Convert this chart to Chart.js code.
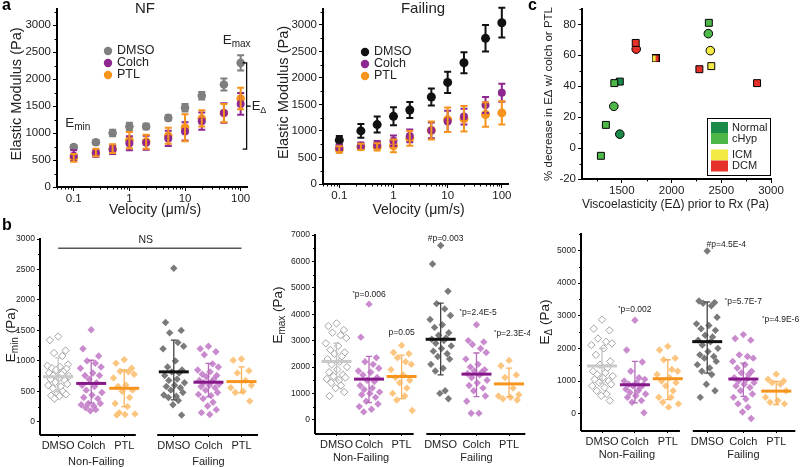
<!DOCTYPE html>
<html>
<head>
<meta charset="utf-8">
<script src="https://cdn.jsdelivr.net/npm/chart.js@4.4.1/dist/chart.umd.min.js"></script>
<style>
  body { margin: 0; background: #fff; }
  #fig { position: relative; width: 800px; height: 467px; overflow: hidden; font-family: "Liberation Sans", Arial, sans-serif; }
  .box { position: absolute; }
  .letter { position: absolute; font-weight: bold; font-size: 16px; color: #000; }
</style>
</head>
<body>
<div id="fig">
  <div class="box" style="left:0;top:0;width:270px;height:225px"><canvas id="nf"></canvas></div>
  <div class="box" style="left:270px;top:0;width:260px;height:225px"><canvas id="failing"></canvas></div>
  <div class="box" style="left:530px;top:0;width:270px;height:225px"><canvas id="visco"></canvas></div>
  <div class="box" style="left:0;top:225px;width:265px;height:242px"><canvas id="emin"></canvas></div>
  <div class="box" style="left:265px;top:225px;width:265px;height:242px"><canvas id="emax"></canvas></div>
  <div class="box" style="left:530px;top:225px;width:270px;height:242px"><canvas id="edelta"></canvas></div>
  <div class="letter" style="left:2px;top:-4px">a</div>
  <div class="letter" style="left:2px;top:216px">b</div>
  <div class="letter" style="left:528px;top:-4px">c</div>
</div>
<script>
// ---- panel a: elastic modulus vs velocity ----
const velocity = [0.1, 0.25, 0.5, 1, 2, 5, 10, 20, 50, 100];
const nfDmso = [740, 830, 1000, 1120, 1120, 1280, 1470, 1690, 1900, 2300];
const nfDmsoErr = [40, 40, 60, 70, 50, 50, 70, 70, 110, 140];
const nfColch = [580, 620, 690, 810, 820, 900, 1030, 1220, 1370, 1540];
const nfColchErr = [100, 60, 80, 130, 130, 140, 170, 160, 180, 200];
const nfPtl = [540, 640, 710, 870, 840, 950, 1100, 1270, 1370, 1640];
const nfPtlErr = [70, 70, 80, 150, 130, 150, 250, 150, 170, 200];

const fDmso = [826, 1000, 1120, 1275, 1395, 1640, 1915, 2285, 2745, 3040];
const fDmsoErr = [80, 130, 150, 170, 150, 160, 200, 200, 250, 280];
const fColch = [690, 720, 750, 815, 905, 1010, 1180, 1270, 1490, 1720];
const fColchErr = [50, 60, 60, 100, 120, 150, 200, 150, 150, 170];
const fPtl = [650, 700, 700, 720, 860, 1010, 1210, 1230, 1310, 1340];
const fPtlErr = [60, 60, 70, 120, 140, 170, 230, 240, 230, 220];

// ---- panel c: % decrease vs viscoelasticity ----
const normalSq = [[1480, 43]];
const normalCirc = [[1480, 9]];
const chypSq = [[1290, -5], [1340, 15], [1425, 42], [2375, 81]];
const chypCirc = [[1420, 27], [2370, 74]];
const icmSq = [[2400, 53]];
const icmCirc = [[2390, 63]];
const dcmSq = [[1640, 68], [2280, 51], [2860, 42]];
const dcmCirc = [[1645, 64]];
const icmDcmSq = [[1840, 58]];

// ---- panel b: dot plots ----
const catNames = ['DMSO', 'Colch', 'PTL', 'DMSO', 'Colch', 'PTL'];
const groupNames = ['Non-Failing', 'Failing'];

const eminGroups = [
  [1400, 1340, 1170, 1130, 1080, 940, 920, 900, 880, 870, 850, 820, 800, 780, 760, 750, 720, 700, 680, 650, 620, 600, 580, 550, 500, 470, 450, 430, 420, 380],
  [1510, 1200, 1080, 1000, 960, 900, 880, 800, 760, 760, 700, 640, 600, 580, 520, 480, 440, 400, 380, 300, 300, 280, 260, 230, 200, 180],
  [1020, 960, 880, 830, 820, 780, 720, 600, 580, 520, 500, 400, 300, 250, 150, 130, 120, 110],
  [2520, 1630, 1500, 1460, 1300, 1240, 1200, 1000, 900, 850, 820, 800, 760, 700, 680, 640, 600, 580, 560, 520, 480, 440, 420, 400, 350, 280, 110],
  [1240, 1200, 1150, 1100, 950, 900, 850, 820, 780, 760, 740, 700, 680, 660, 640, 620, 600, 580, 560, 520, 480, 450, 430, 380, 320, 260, 200, 150, 120],
  [1030, 1010, 840, 800, 680, 600, 560, 500, 480, 340]
];
const eminMean = [740, 630, 550, 820, 650, 660];
const eminLo = [490, 310, 250, 360, 410, 475];
const eminHi = [1050, 1010, 850, 1340, 960, 900];

const emaxGroups = [
  [3650, 3550, 3400, 3300, 3200, 3100, 2900, 2800, 2650, 2550, 2500, 2400, 2300, 2200, 2100, 2000, 1900, 1800, 1700, 1650, 1600, 1550, 1500, 1400, 1300, 1200, 1050, 900],
  [4380, 3130, 2350, 2200, 2100, 1950, 1850, 1800, 1700, 1600, 1500, 1450, 1300, 1200, 1150, 1050, 1000, 950, 850, 700, 600, 500, 400, 300],
  [2820, 2550, 2500, 2350, 2200, 2100, 1900, 1700, 1600, 1500, 1400, 1200, 1000, 900, 750, 350],
  [6600, 5900, 4870, 4400, 4200, 3950, 3800, 3600, 3500, 3300, 3200, 3100, 3050, 3000, 2900, 2800, 2700, 2600, 2500, 2400, 2300, 2100, 1950, 1850, 1100, 1000, 800],
  [3600, 3000, 2950, 2850, 2700, 2550, 2300, 2100, 2000, 1900, 1850, 1800, 1750, 1700, 1600, 1500, 1400, 1300, 1200, 1100, 900, 700, 250, 250],
  [2250, 2050, 1700, 1600, 1200, 950, 900, 850, 800, 750]
];
const emaxMean = [2210, 1540, 1640, 3050, 1730, 1360];
const emaxLo = [1500, 650, 800, 1700, 880, 880];
const emaxHi = [2900, 2400, 2450, 4420, 2530, 1960];

const edeltaGroups = [
  [2880, 2600, 2550, 2300, 2200, 2150, 2100, 2000, 1800, 1600, 1500, 1400, 1300, 1250, 1200, 1150, 1100, 1050, 1000, 950, 900, 850, 800, 700, 600, 550, 400],
  [2860, 1950, 1580, 1300, 1100, 1050, 1000, 950, 900, 880, 850, 800, 750, 700, 650, 600, 550, 500, 400, 350, 30],
  [2060, 1950, 1700, 1650, 1350, 1300, 1200, 1100, 1000, 950, 850, 700, 500, 500, 350, 300, 200],
  [4980, 3450, 3400, 3380, 3300, 2950, 2750, 2700, 2600, 2550, 2400, 2350, 2250, 2200, 2100, 2000, 1900, 1800, 1750, 1700, 1600, 1500, 1400, 1300, 1200, 900, 700, 500],
  [2420, 2300, 2250, 1800, 1750, 1700, 1600, 1500, 1400, 1300, 1250, 1200, 1100, 1050, 1000, 950, 900, 850, 800, 700, 600, 500, 450, 300, 200, 50, -150],
  [1210, 1050, 1000, 950, 900, 700, 500, 400, 350, 300]
];
const edeltaMean = [1460, 885, 1070, 2205, 1060, 690];
const edeltaLo = [935, 330, 430, 1240, 530, 280];
const edeltaHi = [2000, 1600, 1650, 3420, 1550, 990];

// horizontal scatter of the dots around each category
const jitter = [0, -0.2, 0.18, -0.1, 0.1, 0.24, -0.26, 0.04, -0.15, 0.2, -0.05, 0.13, -0.22, 0.08, -0.12, 0.26, 0.02, -0.18, 0.16, -0.07, 0.22, -0.24, 0.06, -0.13, 0.11, -0.02, 0.19, -0.17, 0.03, -0.09, 0.14, -0.2, 0.09, -0.04];

const FONT = '"Liberation Sans", Arial, sans-serif';
const GRAY = '#7f7f7f', PURPLE = '#8e278f', ORANGE = '#f7941d', BLACK = '#111';
const plain = v => String(v);

// ---------- drawing helpers ----------
// parts: [text, kind] where kind '' is normal, 'sub' subscript, 'sup' small raised
function richText(ctx, parts, x, y, size, opts) {
  opts = opts || {};
  ctx.save();
  ctx.translate(x, y);
  if (opts.rotate) ctx.rotate(opts.rotate);
  ctx.fillStyle = opts.color || '#222';
  ctx.textBaseline = 'middle';
  ctx.textAlign = 'left';
  const fonts = parts.map(p => (p[1] ? Math.round(size * 0.72) : size) + 'px ' + FONT);
  let total = 0;
  const widths = parts.map((p, i) => { ctx.font = fonts[i]; const w = ctx.measureText(p[0]).width; total += w; return w; });
  let cx = opts.align === 'left' ? 0 : opts.align === 'right' ? -total : -total / 2;
  parts.forEach((p, i) => {
    ctx.font = fonts[i];
    const dy = p[1] === 'sub' ? size * 0.32 : p[1] === 'sup' ? -size * 0.2 : 0;
    ctx.fillText(p[0], cx, dy);
    cx += widths[i];
  });
  ctx.restore();
}

function minorTicks(chart, axisId, values, len) {
  const s = chart.scales[axisId], a = chart.chartArea, ctx = chart.ctx;
  ctx.save();
  ctx.strokeStyle = '#000';
  ctx.lineWidth = 1;
  ctx.beginPath();
  values.forEach(v => {
    if (v < s.min || v > s.max) return;
    const p = Math.round(s.getPixelForValue(v)) + 0.5;
    if (s.isHorizontal()) { ctx.moveTo(p, a.bottom); ctx.lineTo(p, a.bottom + len); }
    else { ctx.moveTo(a.left, p); ctx.lineTo(a.left - len, p); }
  });
  ctx.stroke();
  ctx.restore();
}

function vBar(chart, x, lo, hi, color, cap, lw) {
  const ctx = chart.ctx, sx = chart.scales.x, sy = chart.scales.y;
  const px = sx.getPixelForValue(x), y1 = sy.getPixelForValue(lo), y2 = sy.getPixelForValue(hi);
  ctx.save();
  ctx.strokeStyle = color;
  ctx.lineWidth = lw;
  ctx.beginPath();
  ctx.moveTo(px, y1); ctx.lineTo(px, y2);
  ctx.moveTo(px - cap, y1); ctx.lineTo(px + cap, y1);
  ctx.moveTo(px - cap, y2); ctx.lineTo(px + cap, y2);
  ctx.stroke();
  ctx.restore();
}

function fixedTicks(values) {
  return s => { s.ticks = values.map(v => ({ value: v })); };
}

function minorLog(min, max) {
  const out = [];
  [0.01, 0.1, 1, 10, 100].forEach(d => { for (let k = 2; k <= 9; k++) { const v = +(d * k).toPrecision(2); if (v >= min && v <= max) out.push(v); } });
  return out;
}

function range(a, b, step) { const out = []; for (let v = a; v <= b + 1e-9; v += step) out.push(v); return out; }

// "*p=0.006" -> small raised star followed by the text
function noteParts(t) {
  return t[0] === '*' ? [['*', 'sup'], [t.slice(1), '']] : [[t, '']];
}

const baseOpts = {
  responsive: true,
  maintainAspectRatio: false,
  animation: false,
  events: [],
  plugins: { legend: { display: false }, tooltip: { enabled: false } }
};

// ---------- panel a ----------
function velocityChart(id, series, o) {
  const datasets = series.map(s => ({
    data: velocity.map((v, i) => ({ x: v, y: s.vals[i] })),
    backgroundColor: s.color,
    borderWidth: 0,
    pointRadius: s.r,
    pointHoverRadius: s.r
  }));
  new Chart(document.getElementById(id), {
    type: 'scatter',
    data: { datasets },
    options: Object.assign({}, baseOpts, {
      layout: { padding: { left: 0, right: o.padRight, top: o.padTop, bottom: o.padBottom } },
      scales: {
        x: {
          type: 'logarithmic', min: 0.05, max: 130,
          afterBuildTicks: fixedTicks([0.1, 1, 10, 100]),
          afterFit: s => { s.height = 30; },
          ticks: { callback: plain, font: { size: 11.5, family: FONT }, color: '#222', padding: 1, maxRotation: 0 },
          grid: { drawOnChartArea: false, tickLength: 4, color: '#000' },
          border: { color: '#000', width: 2 }
        },
        y: {
          min: 0, max: 3300,
          afterBuildTicks: fixedTicks(range(0, 3000, 500)),
          afterFit: s => { s.width = o.yWidth; },
          ticks: { callback: plain, font: { size: 11.5, family: FONT }, color: '#222', padding: 2 },
          grid: { drawOnChartArea: false, tickLength: 4, color: '#000' },
          border: { color: '#000', width: 2 }
        }
      }
    }),
    plugins: [{
      id: 'decorA',
      afterDatasetsDraw(chart) {
        const ctx = chart.ctx, a = chart.chartArea;
        series.forEach(s => velocity.forEach((v, i) => vBar(chart, v, s.vals[i] - s.err[i], s.vals[i] + s.err[i], s.color, 3.5, 2)));
        minorTicks(chart, 'x', minorLog(0.05, 130), 2.5);
        minorTicks(chart, 'y', range(250, 3250, 500), 2.5);
        // axis titles
        richText(ctx, [['Elastic Modulus (Pa)', '']], o.yTitleX, (a.top + a.bottom) / 2 - 4, 14.5, { rotate: -Math.PI / 2 });
        richText(ctx, [['Velocity (', ''], ['\u03bc', ''], ['m/s)', '']], (a.left + a.right) / 2 + 3, 210, 14);
        richText(ctx, [[o.title, '']], o.titleX, 9, 15);
        // legend
        series.forEach((s, i) => {
          const y = o.legendY + i * 12;
          ctx.beginPath(); ctx.fillStyle = s.color; ctx.arc(o.legendX, y, 4.2, 0, Math.PI * 2); ctx.fill();
          richText(ctx, [[s.name, '']], o.legendX + 9, y, 12.5, { align: 'left' });
        });
        if (o.bracket) o.bracket(chart);
      }
    }]
  });
}

velocityChart('nf', [
  { name: 'DMSO', vals: nfDmso, err: nfDmsoErr, color: GRAY, r: 4.3 },
  { name: 'Colch', vals: nfColch, err: nfColchErr, color: PURPLE, r: 4 },
  { name: 'PTL', vals: nfPtl, err: nfPtlErr, color: ORANGE, r: 4.3 }
], {
  padRight: 23, padTop: 7, padBottom: 8, yWidth: 57, yTitleX: 17, title: 'NF', titleX: 145,
  legendX: 108, legendY: 51,
  bracket(chart) {
    const ctx = chart.ctx, sx = chart.scales.x, sy = chart.scales.y;
    const x = sx.getPixelForValue(100) + 6;
    const top = sy.getPixelForValue(nfDmso[9]), bot = sy.getPixelForValue(700), mid = (top + bot) / 2;
    ctx.save();
    ctx.strokeStyle = '#000'; ctx.lineWidth = 1.2;
    ctx.beginPath();
    ctx.moveTo(x - 4, top); ctx.lineTo(x, top); ctx.lineTo(x, bot); ctx.lineTo(x - 4, bot);
    ctx.moveTo(x, mid); ctx.lineTo(x + 4, mid);
    ctx.stroke();
    ctx.restore();
    richText(ctx, [['E', ''], ['\u0394', 'sub']], x + 5, mid, 13, { align: 'left' });
    richText(ctx, [['E', ''], ['max', 'sub']], sx.getPixelForValue(100) - 4, 40, 13.5);
    richText(ctx, [['E', ''], ['min', 'sub']], sx.getPixelForValue(0.1) + 4, 123, 13.5);
  }
});

velocityChart('failing', [
  { name: 'DMSO', vals: fDmso, err: fDmsoErr, color: BLACK, r: 4.5 },
  { name: 'Colch', vals: fColch, err: fColchErr, color: PURPLE, r: 4 },
  { name: 'PTL', vals: fPtl, err: fPtlErr, color: ORANGE, r: 4.5 }
], {
  padRight: 22, padTop: 5, padBottom: 11, yWidth: 53, yTitleX: 14, title: 'Failing', titleX: 153,
  legendX: 95, legendY: 52
});

// ---------- panel c ----------
function splitSquare(c1, c2, size) {
  const cv = document.createElement('canvas');
  cv.width = cv.height = size;
  const g = cv.getContext('2d');
  g.fillStyle = c1; g.fillRect(0, 0, size / 2, size);
  g.fillStyle = c2; g.fillRect(size / 2, 0, size / 2, size);
  g.strokeStyle = '#000'; g.lineWidth = 1; g.strokeRect(0.5, 0.5, size - 1, size - 1);
  return cv;
}
const NORMAL = '#1b8b49', CHYP = '#4db848', ICM = '#f4ea45', DCM = '#e5312a';
function markSet(pts, color, style) {
  return {
    data: pts.map(p => ({ x: p[0], y: p[1] })),
    backgroundColor: color, borderColor: '#000', borderWidth: 1,
    pointStyle: style, pointRadius: style === 'rect' ? 4.9 : 4.3, pointHoverRadius: 4.9
  };
}
new Chart(document.getElementById('visco'), {
  type: 'scatter',
  data: {
    datasets: [
      markSet(chypSq, CHYP, 'rect'), markSet(normalSq, NORMAL, 'rect'),
      markSet(chypCirc, CHYP, 'circle'), markSet(normalCirc, NORMAL, 'circle'),
      markSet(dcmSq, DCM, 'rect'), markSet(dcmCirc, DCM, 'circle'),
      markSet(icmSq, ICM, 'rect'), markSet(icmCirc, ICM, 'circle'),
      Object.assign(markSet(icmDcmSq, ICM, 'rect'), { pointStyle: splitSquare(ICM, DCM, 8) })
    ]
  },
  options: Object.assign({}, baseOpts, {
    layout: { padding: { left: 0, right: 29, top: 7, bottom: 11 } },
    scales: {
      x: {
        min: 1100, max: 3000,
        afterBuildTicks: fixedTicks([1500, 2000, 2500, 3000]),
        afterFit: s => { s.height = 35; },
        ticks: { callback: plain, font: { size: 11.5, family: FONT }, color: '#222', padding: 1, maxRotation: 0 },
        grid: { drawOnChartArea: false, tickLength: 4, color: '#000' },
        border: { color: '#000', width: 2 }
      },
      y: {
        min: -20, max: 90,
        afterBuildTicks: fixedTicks(range(-20, 80, 20)),
        afterFit: s => { s.width = 52; },
        ticks: { callback: plain, font: { size: 11.5, family: FONT }, color: '#222', padding: 2 },
        grid: { drawOnChartArea: false, tickLength: 4, color: '#000' },
        border: { color: '#000', width: 2 }
      }
    }
  }),
  plugins: [{
    id: 'decorC',
    afterDraw(chart) {
      const ctx = chart.ctx, a = chart.chartArea;
      minorTicks(chart, 'x', [1250, 1750, 2250, 2750], 2.5);
      minorTicks(chart, 'y', range(-10, 90, 20), 2.5);
      richText(ctx, [['% decrease in E\u0394 w/ colch or PTL', '']], 19, (a.top + a.bottom) / 2, 11.5, { rotate: -Math.PI / 2 });
      richText(ctx, [['Viscoelasticity (E\u0394) prior to Rx (Pa)', '']], (a.left + a.right) / 2 - 1, 205, 12);
      // legend
      ctx.save();
      ctx.fillStyle = '#fff'; ctx.fillRect(177, 118, 63, 57);
      ctx.strokeStyle = '#000'; ctx.lineWidth = 1; ctx.strokeRect(177.5, 118.5, 63, 57);
      [[NORMAL, 'Normal', 122], [CHYP, 'cHyp', 133], [ICM, 'ICM', 149.5], [DCM, 'DCM', 160.5]].forEach(e => {
        ctx.fillStyle = e[0]; ctx.fillRect(181, e[2], 17, 11);
        richText(ctx, [[e[1], '']], 202, e[2] + 5.5, 11, { align: 'left' });
      });
      ctx.restore();
    }
  }]
});

// ---------- panel b ----------
const dotFill = ['#ffffff', 'rgba(192,118,198,0.85)', 'rgba(252,192,115,0.9)', '#7a7a7a', 'rgba(192,118,198,0.85)', 'rgba(252,192,115,0.9)'];
const dotEdge = ['#a3a3a3', 'rgba(192,118,198,0.85)', 'rgba(252,192,115,0.9)', '#7a7a7a', 'rgba(192,118,198,0.85)', 'rgba(252,192,115,0.9)'];
const meanColor = ['#c9c9c9', '#86198a', '#f7941d', '#111111', '#86198a', '#f7941d'];
const barColor = ['#c4c4c4', '#b56cba', '#f9b35e', '#444444', '#b56cba', '#f9b35e'];

function dotChart(id, groups, mean, lo, hi, o) {
  const datasets = groups.map((vals, g) => ({
    data: vals.map((v, i) => ({ x: o.pos[g] + jitter[i % jitter.length] * 1.25, y: v })),
    pointStyle: 'rectRot',
    pointRadius: 3.7,
    pointHoverRadius: 3.7,
    backgroundColor: dotFill[g],
    borderColor: dotEdge[g],
    borderWidth: g === 0 ? 1 : 0
  }));
  new Chart(document.getElementById(id), {
    type: 'scatter',
    data: { datasets },
    options: Object.assign({}, baseOpts, {
      layout: { padding: { left: 0, right: o.padRight, top: o.padTop, bottom: o.padBottom } },
      scales: {
        x: {
          min: o.xMin, max: o.xMax,
          afterBuildTicks: fixedTicks(o.pos),
          afterFit: s => { s.height = 20; },
          ticks: { callback: (v, i) => catNames[i], font: { size: 11, family: FONT }, color: '#222', padding: 2, maxRotation: 0, autoSkip: false },
          grid: { drawOnChartArea: false, tickLength: 3, color: '#000' },
          border: { display: false }
        },
        y: {
          min: o.yMin, max: o.yMax,
          afterBuildTicks: fixedTicks(o.yTicks),
          afterFit: s => { s.width = o.yWidth; },
          ticks: { callback: plain, font: { size: 8.5, family: FONT }, color: '#222', padding: 2 },
          grid: { drawOnChartArea: false, tickLength: 3, color: '#000' },
          border: { color: '#000', width: 2 }
        }
      }
    }),
    plugins: [{
      id: 'decorB',
      afterDatasetsDraw(chart) {
        const ctx = chart.ctx, a = chart.chartArea, sx = chart.scales.x, sy = chart.scales.y;
        groups.forEach((vals, g) => {
          vBar(chart, o.pos[g], lo[g], hi[g], barColor[g], 3, 1.3);
          const px = sx.getPixelForValue(o.pos[g]), py = sy.getPixelForValue(mean[g]);
          ctx.save();
          ctx.strokeStyle = meanColor[g]; ctx.lineWidth = 3;
          ctx.beginPath(); ctx.moveTo(px - 15, py); ctx.lineTo(px + 15, py); ctx.stroke();
          ctx.restore();
        });
        // broken x axis
        ctx.save();
        ctx.strokeStyle = '#000'; ctx.lineWidth = 2;
        ctx.beginPath();
        ctx.moveTo(a.left, a.bottom + 1); ctx.lineTo(sx.getPixelForValue(o.seg[0]), a.bottom + 1);
        ctx.moveTo(sx.getPixelForValue(o.seg[1]), a.bottom + 1); ctx.lineTo(a.right, a.bottom + 1);
        ctx.stroke();
        ctx.restore();
        minorTicks(chart, 'y', o.yMinor, 2);
        richText(ctx, o.yTitle, o.yTitleX, o.yTitleY, 13.5, { rotate: -Math.PI / 2 });
        richText(ctx, [[groupNames[0], '']], sx.getPixelForValue(o.pos[1]) + o.groupShift, o.groupY, 11);
        richText(ctx, [[groupNames[1], '']], sx.getPixelForValue(o.pos[4]), o.groupY, 11);
        (o.notes || []).forEach(n => {
          richText(ctx, noteParts(n.t), sx.getPixelForValue(n.x), sy.getPixelForValue(n.y), 8.5, { align: n.align || 'center' });
        });
        if (o.extra) o.extra(chart);
      }
    }]
  });
}

dotChart('emin', eminGroups, eminMean, eminLo, eminHi, {
  pos: [1, 2, 3, 4.5, 5.55, 6.55], xMin: 0.45, xMax: 7.05, seg: [3.35, 4.0],
  yMin: -200, yMax: 3000, yTicks: range(0, 3000, 500), yMinor: range(250, 2750, 500),
  yWidth: 40, padRight: 7, padTop: 14, padBottom: 13,
  yTitle: [['E', ''], ['min', 'sub'], [' (Pa)', '']], yTitleX: 11, yTitleY: 110,
  groupY: 237, groupShift: 5,
  extra(chart) {
    const ctx = chart.ctx, sx = chart.scales.x, sy = chart.scales.y;
    const y = sy.getPixelForValue(2850);
    ctx.save();
    ctx.strokeStyle = '#555'; ctx.lineWidth = 1.5;
    ctx.beginPath(); ctx.moveTo(sx.getPixelForValue(1), y); ctx.lineTo(sx.getPixelForValue(6.55), y); ctx.stroke();
    ctx.restore();
    richText(ctx, [['NS', '']], sx.getPixelForValue(3.65), sy.getPixelForValue(2990), 10.5);
  }
});

dotChart('emax', emaxGroups, emaxMean, emaxLo, emaxHi, {
  pos: [1, 2, 3, 4.2, 5.3, 6.3], xMin: 0.34, xMax: 6.8, seg: [3.37, 3.76],
  yMin: -500, yMax: 7000, yTicks: range(0, 7000, 1000), yMinor: range(500, 6500, 1000),
  yWidth: 50, padRight: 2, padTop: 10, padBottom: 14,
  yTitle: [['E', ''], ['max', 'sub'], [' (Pa)', '']], yTitleX: 13, yTitleY: 90,
  groupY: 233, groupShift: -8,
  notes: [
    { t: '*p=0.006', x: 2, y: 4730 },
    { t: 'p=0.05', x: 3, y: 3300 },
    { t: '#p=0.003', x: 4.35, y: 6870 },
    { t: '*p=2.4E-5', x: 5.35, y: 4060 },
    { t: '*p=2.3E-4', x: 5.84, y: 3250, align: 'left' }
  ]
});

dotChart('edelta', edeltaGroups, edeltaMean, edeltaLo, edeltaHi, {
  pos: [1, 2, 3, 4.2, 5.3, 6.3], xMin: 0.36, xMax: 6.88, seg: [3.37, 3.76],
  yMin: -500, yMax: 5500, yTicks: range(0, 5000, 1000), yMinor: range(500, 5500, 1000),
  yWidth: 51, padRight: 3, padTop: 9, padBottom: 17,
  yTitle: [['E', ''], ['\u0394', 'sub'], [' (Pa)', '']], yTitleX: 15, yTitleY: 97,
  groupY: 230, groupShift: -8,
  notes: [
    { t: '*p=0.002', x: 2, y: 3170 },
    { t: '#p=4.5E-4', x: 4.78, y: 5180 },
    { t: '*p=5.7E-7', x: 5.3, y: 3425 },
    { t: '*p=4.9E-6', x: 5.87, y: 2865, align: 'left' }
  ]
});
</script>
</body>
</html>
